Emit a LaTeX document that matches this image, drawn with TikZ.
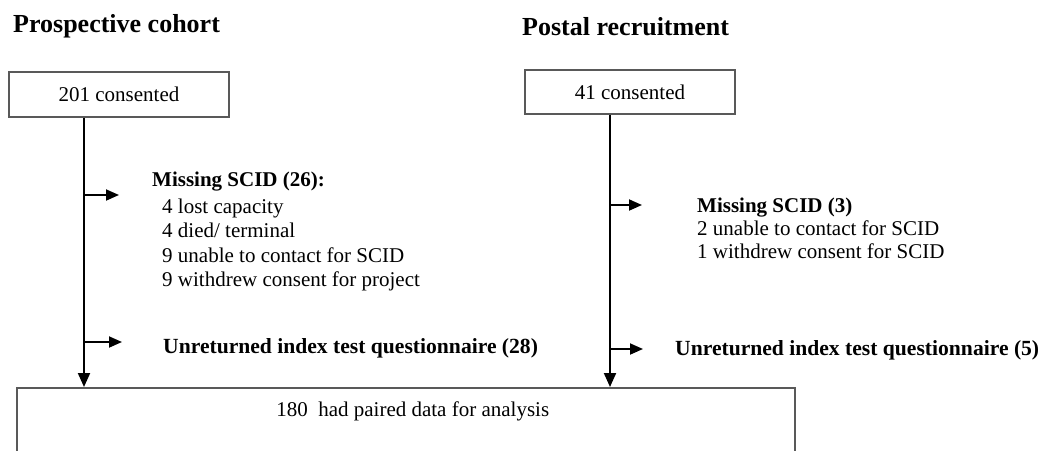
\documentclass[tikz,border=0pt]{standalone}
\usepackage{fontspec}
\setmainfont{Liberation Serif}
\usetikzlibrary{arrows.meta}

\tikzset{
  heading/.style={anchor=base west, inner sep=0pt, font=\fontsize{26}{30}\selectfont\bfseries},
  stagebox/.style={draw=black!65, line width=1.5pt, fill=white, inner sep=0pt,
    font=\fontsize{21}{25}\selectfont},
  note/.style={anchor=base west, inner sep=0pt, font=\fontsize{21}{25}\selectfont},
  notehead/.style={note, font=\fontsize{21}{25}\selectfont\bfseries},
  lossnote/.style={note, font=\fontsize{21.6}{25}\selectfont\bfseries},
  flow/.style={line width=2pt, -{Triangle[length=14pt,width=12pt]}},
  branch/.style={line width=1.8pt, -{Triangle[length=13pt,width=11pt]}},
}

\begin{document}
\begin{tikzpicture}[x=1pt,y=-1pt]
  \useasboundingbox (0,0) rectangle (1047,450);
  \clip (0,0) rectangle (1047,450);

  % column headings
  \node[heading] (hleft)  at (13,32)  {Prospective cohort};
  \node[heading] (hright) at (522,35) {Postal recruitment};

  % enrolment boxes
  \node[stagebox, minimum width=220pt, minimum height=45pt] (consL) at (119,94.5) {201 consented};
  \node[stagebox, minimum width=210pt, minimum height=44pt] (consR) at (630,92) {41 consented};

  % analysed sample (box runs past the lower edge)
  \node[stagebox, anchor=north west, minimum width=778pt, inner ysep=15pt,
        text height=14pt, text depth=60pt] (final) at (16,387)
        {\hspace*{14pt}180\ \ had paired data for analysis};

  % exclusions, prospective cohort
  \node[notehead] (missL) at (152,186) {Missing SCID (26):};
  \node[note] (missL1) at (162,213) {4 lost capacity};
  \node[note] (missL2) at (162,237) {4 died/ terminal};
  \node[note] (missL3) at (162,262) {9 unable to contact for SCID};
  \node[note] (missL4) at (162,286) {9 withdrew consent for project};
  \node[lossnote] (unretL) at (163,353) {Unreturned index test questionnaire (28)};

  % exclusions, postal recruitment
  \node[notehead] (missR) at (697,212) {Missing SCID (3)};
  \node[note] (missR1) at (697,235) {2 unable to contact for SCID};
  \node[note] (missR2) at (697,258) {1 withdrew consent for SCID};
  \node[lossnote] (unretR) at (675,355) {Unreturned index test questionnaire (5)};

  % trunk lines
  \coordinate (lx) at (84,0);
  \coordinate (rx) at (610,0);
  \draw[flow] (consL.south -| lx) -- (final.north -| lx);
  \draw[flow] (consR.south -| rx) -- (final.north -| rx);

  % side branches
  \coordinate (bL1) at (84,195);  \coordinate (tL1) at (119,195);
  \coordinate (bL2) at (84,342);  \coordinate (tL2) at (122,342);
  \coordinate (bR1) at (610,205); \coordinate (tR1) at (642,205);
  \coordinate (bR2) at (610,349); \coordinate (tR2) at (643,349);
  \draw[branch] (bL1) -- (tL1);
  \draw[branch] (bL2) -- (tL2);
  \draw[branch] (bR1) -- (tR1);
  \draw[branch] (bR2) -- (tR2);
\end{tikzpicture}
\end{document}
